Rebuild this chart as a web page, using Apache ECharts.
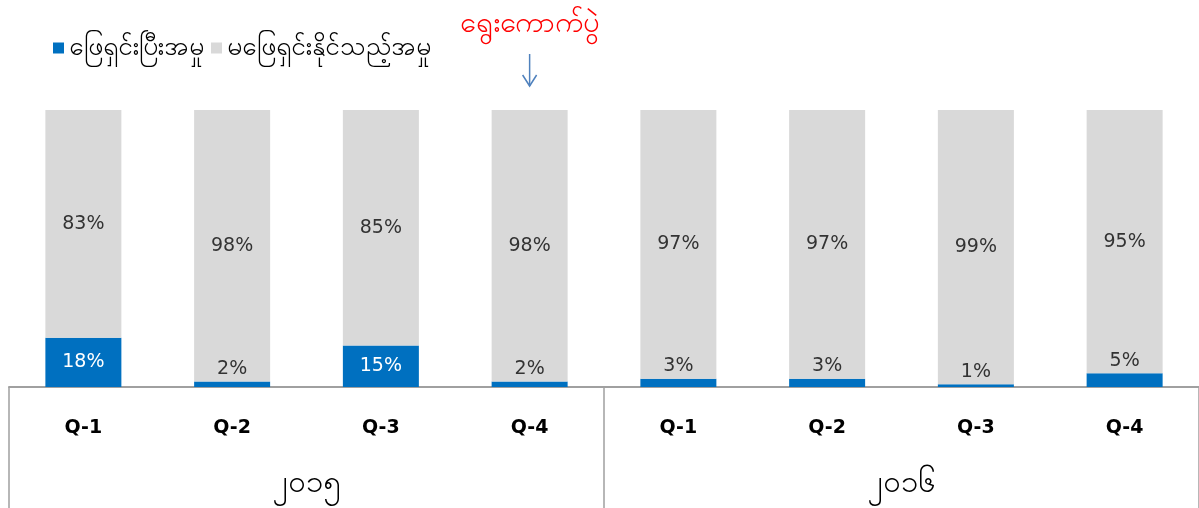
<!DOCTYPE html>
<html>
<head>
<meta charset="utf-8">
<script src="https://cdn.jsdelivr.net/npm/echarts@6/dist/echarts.min.js"></script>
<style>
html, body { margin: 0; padding: 0; background: #fff; }
#main { width: 1199px; height: 508px; }
</style>
</head>
<body>
<div id="main"></div>
<script>
var quarters = ['Q-1', 'Q-2', 'Q-3', 'Q-4', 'Q-1', 'Q-2', 'Q-3', 'Q-4'];
var years = ['၂၀၁၅', '၂၀၁၆'];
var solved = [18, 2, 15, 2, 3, 3, 1, 5];      // ဖြေရှင်းပြီးအမှု
var unsolved = [83, 98, 85, 98, 97, 97, 99, 95]; // မဖြေရှင်းနိုင်သည့်အမှု
var seriesNames = ['ဖြေရှင်းပြီးအမှု', 'မဖြေရှင်းနိုင်သည့်အမှု'];
var noteText = 'ရွေးကောက်ပွဲ';
var noteIndex = 3;

var font = 'DejaVu Sans, Noto Sans, sans-serif';
var chart = echarts.init(document.getElementById('main'));

// 100% stacked - share of each quarter
function share(arr, i) {
    return arr[i] / (solved[i] + unsolved[i]) * 100;
}

var solvedData = [];
var unsolvedData = [];
for (var i = 0; i < quarters.length; i++) {
    var big = solved[i] >= 10;
    solvedData.push({
        value: share(solved, i),
        raw: solved[i],
        label: {
            position: big ? 'inside' : 'top',
            distance: 3,
            color: big ? '#ffffff' : '#333333'
        }
    });
    unsolvedData.push({ value: share(unsolved, i), raw: unsolved[i] });
}

function fmt(p) { return p.data.raw + '%'; }

var option = {
    animation: false,
    textStyle: { fontFamily: font },
    legend: {
        left: 48,
        top: 30,
        itemWidth: 11,
        itemHeight: 11,
        itemGap: 7,
        icon: 'rect',
        textStyle: { fontSize: 26, color: '#000', fontFamily: font },
        data: seriesNames
    },
    grid: { left: 9, right: 0, top: 110, bottom: 121 },
    xAxis: [
        {
            type: 'category',
            data: quarters,
            axisLine: { lineStyle: { color: '#a0a0a0', width: 2 } },
            axisTick: { show: false },
            axisLabel: { margin: 32, fontSize: 19, fontWeight: 'bold', color: '#000', fontFamily: font }
        },
        {
            type: 'category',
            data: years,
            position: 'bottom',
            axisLine: { show: false },
            axisTick: { show: true, length: 121, lineStyle: { color: '#a0a0a0', width: 1.5 } },
            axisLabel: { margin: 81, fontSize: 31, color: '#000', fontFamily: font }
        }
    ],
    yAxis: { type: 'value', min: 0, max: 100, show: false },
    series: [
        {
            name: seriesNames[0],
            type: 'bar',
            stack: 'all',
            barWidth: 76,
            itemStyle: { color: '#0070c0' },
            label: { show: true, fontSize: 19, formatter: fmt, fontFamily: font },
            data: solvedData
        },
        {
            name: seriesNames[1],
            type: 'bar',
            stack: 'all',
            barWidth: 76,
            itemStyle: { color: '#d9d9d9' },
            label: { show: true, position: 'inside', fontSize: 19, color: '#333333', formatter: fmt, fontFamily: font },
            data: unsolvedData
        }
    ]
};

chart.setOption(option);

// annotation above election quarter
var px = chart.convertToPixel({ xAxisIndex: 0 }, noteIndex);
chart.setOption({
    graphic: [
        {
            type: 'text',
            x: px,
            y: 24,
            style: {
                text: noteText,
                fill: '#ff0000',
                font: '29px ' + font,
                align: 'center',
                verticalAlign: 'middle'
            }
        },
        {
            type: 'line',
            shape: { x1: px, y1: 54, x2: px, y2: 86 },
            style: { stroke: '#4f81bd', lineWidth: 1.5 }
        },
        {
            type: 'polyline',
            shape: { points: [[px - 7, 75], [px, 86], [px + 7, 75]] },
            style: { stroke: '#4f81bd', lineWidth: 1.5, fill: null }
        }
    ]
});
</script>
</body>
</html>
